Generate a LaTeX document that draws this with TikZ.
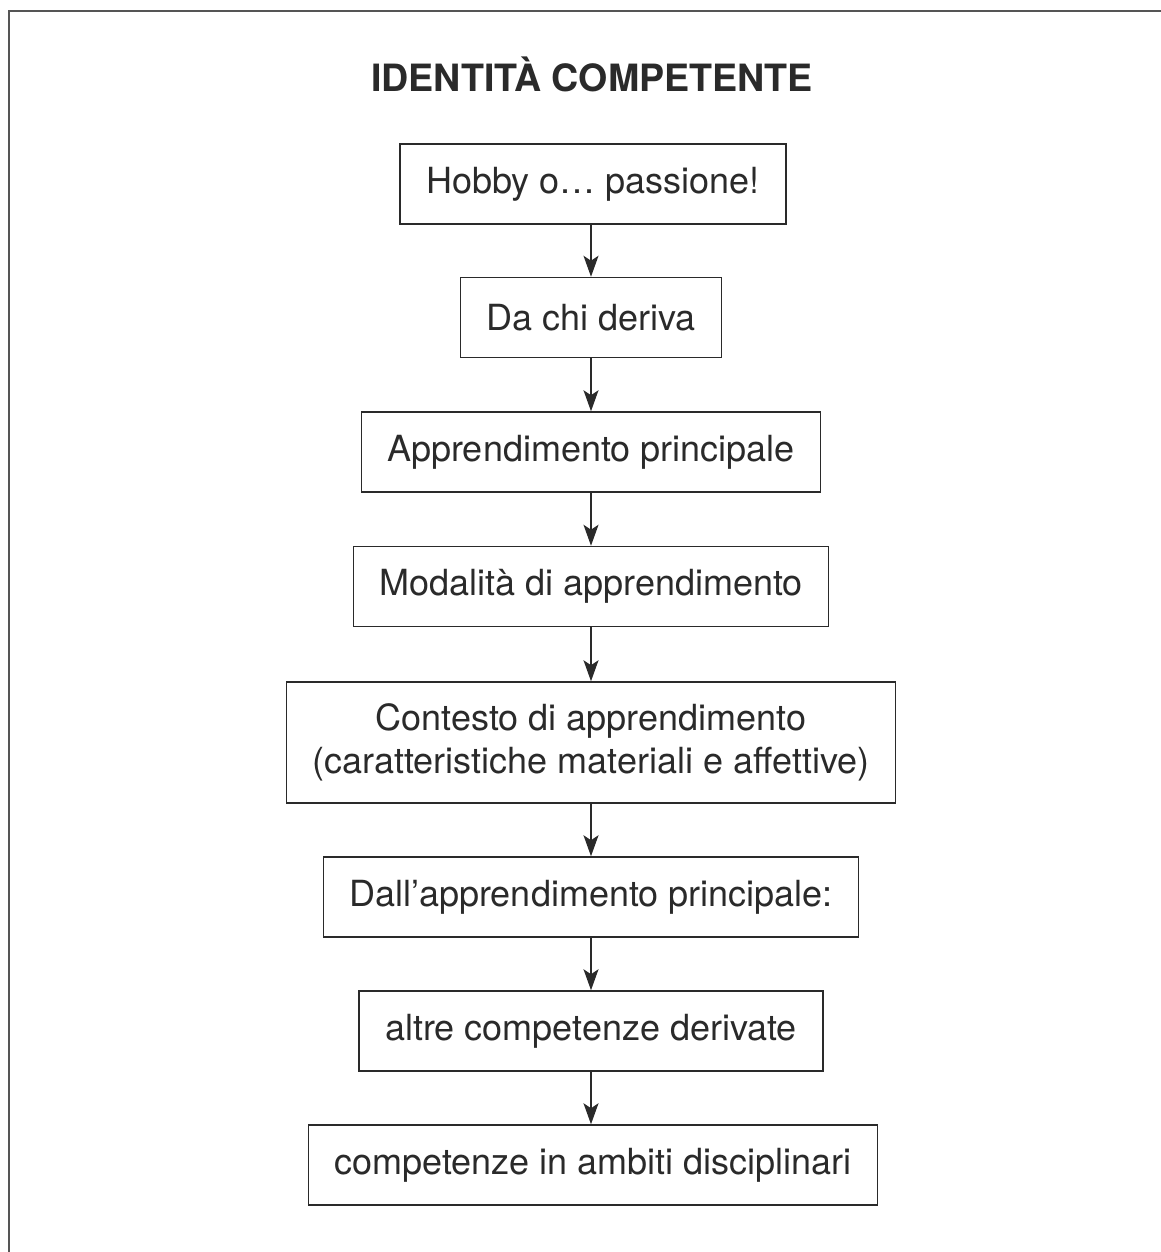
\documentclass[tikz,border=0pt]{standalone}
\usepackage{fontspec}
\setmainfont{TeX Gyre Heros}
\usetikzlibrary{arrows.meta}
\definecolor{framegray}{HTML}{555555}
\definecolor{inkgray}{HTML}{2A2A2A}
\begin{document}
\begin{tikzpicture}[x=0.5pt,y=-0.5pt,
	box/.style={rectangle,draw=inkgray,line width=0.75pt,text=inkgray,font=\fontsize{18}{21.6}\selectfont,inner xsep=13pt,minimum height=40pt,align=center},
	arr/.style={draw=inkgray,line width=0.8pt,-{Stealth[length=10.5pt,width=7.5pt,inset=2.5pt]}}]
		\useasboundingbox (0,0) rectangle (1161,1252);
		\draw[framegray,line width=1pt] (9,1252) -- (9,11) -- (1161,11);
		\node[text=inkgray,font=\bfseries\fontsize{18.8}{23}\selectfont,anchor=base] (titolo) at (592,92) {IDENTITÀ COMPETENTE};
		\node[box] (hobby) at (593,184) {Hobby o… passione!};
		\node[box] (chi) at (591,317.5) {Da chi deriva};
		\node[box] (appr) at (591,452) {Apprendimento principale};
		\node[box] (modo) at (591,586.5) {Modalità di apprendimento};
		\node[box,minimum height=60.5pt] (contesto) at (591,742.5) {Contesto di apprendimento\\(caratteristiche materiali e affettive)};
		\node[box] (dallappr) at (591,897) {Dall’apprendimento principale:};
		\node[box] (altre) at (591,1031) {altre competenze derivate};
		\node[box] (ambiti) at (593,1165) {competenze in ambiti disciplinari};
		\foreach \a/\b in {hobby/chi,chi/appr,appr/modo,modo/contesto,contesto/dallappr,dallappr/altre,altre/ambiti}
		\draw[arr] (\a.south -| chi) -- (\b.north -| chi);
	\end{tikzpicture}
\end{document}
